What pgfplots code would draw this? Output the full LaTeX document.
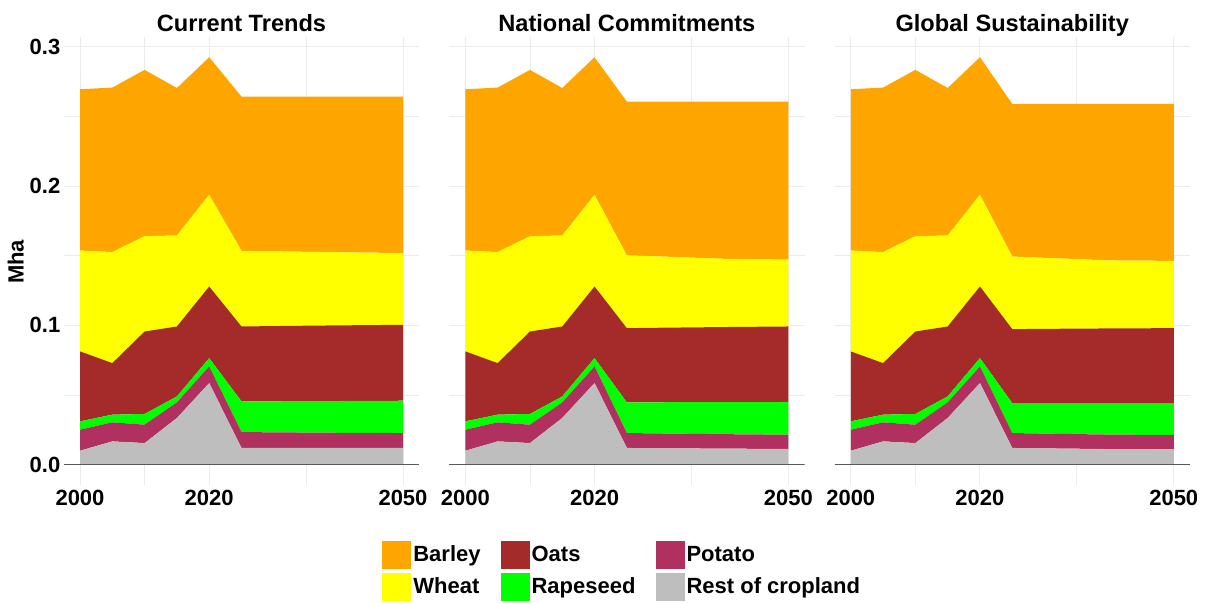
\documentclass[border=0pt]{standalone}
\usepackage{pgfplots}
\pgfplotsset{compat=1.18}
\usepackage{pgfplotstable}
\usepackage{fontspec}
\setmainfont{Liberation Sans}
\definecolor{cbarley}{HTML}{FFA500}
\definecolor{cwheat}{HTML}{FFFF00}
\definecolor{coats}{HTML}{A52A2A}
\definecolor{crape}{HTML}{00FF00}
\definecolor{cpotato}{HTML}{B03060}
\definecolor{crest}{HTML}{BEBEBE}
\definecolor{cgrid}{HTML}{EBEBEB}

\pgfplotstableread{
x rest potato rape oats wheat barley
2000 0.0100 0.0151 0.0060 0.0502 0.0724 0.1158
2005 0.0167 0.0137 0.0055 0.0370 0.0797 0.1181
2010 0.0155 0.0132 0.0077 0.0592 0.0684 0.1194
2015 0.0335 0.0112 0.0043 0.0502 0.0653 0.1059
2020 0.0586 0.0119 0.0060 0.0514 0.0658 0.0988
2025 0.0120 0.0114 0.0220 0.0538 0.0543 0.1107
2030 0.0120 0.0112 0.0223 0.0540 0.0536 0.1111
2040 0.0120 0.0109 0.0228 0.0543 0.0525 0.1117
2050 0.0120 0.0107 0.0232 0.0545 0.0515 0.1123
}\tabCT
\pgfplotstableread{
x rest potato rape oats wheat barley
2000 0.0100 0.0151 0.0060 0.0502 0.0724 0.1158
2005 0.0167 0.0137 0.0055 0.0370 0.0797 0.1181
2010 0.0155 0.0132 0.0077 0.0592 0.0684 0.1194
2015 0.0335 0.0112 0.0043 0.0502 0.0653 0.1059
2020 0.0586 0.0119 0.0060 0.0514 0.0658 0.0988
2025 0.0120 0.0107 0.0220 0.0533 0.0522 0.1104
2030 0.0118 0.0106 0.0224 0.0535 0.0512 0.1111
2040 0.0115 0.0104 0.0230 0.0539 0.0490 0.1128
2050 0.0113 0.0102 0.0235 0.0542 0.0479 0.1135
}\tabNC
\pgfplotstableread{
x rest potato rape oats wheat barley
2000 0.0100 0.0151 0.0060 0.0502 0.0724 0.1158
2005 0.0167 0.0137 0.0055 0.0370 0.0797 0.1181
2010 0.0155 0.0132 0.0077 0.0592 0.0684 0.1194
2015 0.0335 0.0112 0.0043 0.0502 0.0653 0.1059
2020 0.0586 0.0119 0.0060 0.0514 0.0658 0.0988
2025 0.0120 0.0107 0.0215 0.0531 0.0521 0.1096
2030 0.0117 0.0106 0.0219 0.0533 0.0510 0.1105
2040 0.0112 0.0104 0.0226 0.0536 0.0488 0.1124
2050 0.0110 0.0103 0.0229 0.0538 0.0483 0.1127
}\tabGS

\pgfplotsset{
  panel/.style={
    scale only axis, width=177.65pt, height=224pt,
    anchor=south west,
    xmin=1997.5, xmax=2052.5, ymin=-0.0146, ymax=0.307,
    stack plots=y,
    axis line style={draw=none},
    major tick length=0pt, minor tick length=0pt,
    xtick={2000,2020,2050}, minor xtick={2010,2035},
    ytick={0,0.1,0.2,0.3}, minor ytick={0.05,0.15,0.25},
    grid=both,
    major grid style={cgrid, line width=0.5pt},
    minor grid style={cgrid, line width=0.4pt},
    /pgf/number format/assume math mode=true,
    /pgf/number format/1000 sep={},
    yticklabel style={/pgf/number format/fixed, /pgf/number format/precision=1, /pgf/number format/fixed zerofill, font=\fontsize{11}{13}\selectfont\bfseries, inner xsep=1.6pt},
    xticklabel style={font=\fontsize{11}{13}\selectfont\bfseries, inner ysep=2.2pt},
    every axis title/.style={font=\fontsize{11.8}{14}\selectfont\bfseries, at={(axis description cs:0.5,1)}, anchor=base, yshift=2.6pt},
    every axis plot/.append style={draw=none},
  }
}

\newcommand{\stackareas}[1]{%
  \addplot[fill=crest] table[x=x,y=rest]{#1} \closedcycle;
  \addplot[fill=cpotato] table[x=x,y=potato]{#1} \closedcycle;
  \addplot[fill=crape] table[x=x,y=rape]{#1} \closedcycle;
  \addplot[fill=coats] table[x=x,y=oats]{#1} \closedcycle;
  \addplot[fill=cwheat] table[x=x,y=wheat]{#1} \closedcycle;
  \addplot[fill=cbarley] table[x=x,y=barley]{#1} \closedcycle;
}

\begin{document}
\begin{tikzpicture}
\useasboundingbox (0,0) rectangle (605pt,301pt);

\begin{axis}[panel, at={(31.925pt,58.5pt)}, title={Current Trends},
  ylabel={Mha},
  every axis y label/.style={at={(axis description cs:-0.1355,0.498)}, rotate=90, anchor=center, font=\fontsize{11}{13}\selectfont\bfseries}]
\stackareas{\tabCT}
\end{axis}
\begin{axis}[panel, at={(31.925pt,58.5pt)}, stack plots=false, axis lines=none, xtick=\empty, ytick=\empty, minor xtick={}, minor ytick={}, grid=none]
\addplot[draw=black!65, line width=0.6pt] coordinates {(1997.5,0) (2052.5,0)};
\end{axis}

\begin{axis}[panel, at={(224.6pt,58.5pt)}, title={National Commitments}, yticklabels={},
  legend columns=3,
  legend style={at={(axis description cs:-0.1882,-0.125)}, anchor=north west, draw=none, fill=none, inner sep=0pt, outer sep=0pt,
    font=\fontsize{11}{13}\selectfont\bfseries,
    nodes={inner xsep=1pt, inner ysep=0pt},
    row sep=1.8pt,
    /tikz/every even column/.append style={column sep=9pt}},
  legend cell align=left,
  legend image code/.code={\fill[#1] (0pt,-7pt) rectangle (14.5pt,7pt);}]
\addlegendimage{fill=cbarley, draw=none}
\addlegendimage{fill=coats, draw=none}
\addlegendimage{fill=cpotato, draw=none}
\addlegendimage{fill=cwheat, draw=none}
\addlegendimage{fill=crape, draw=none}
\addlegendimage{fill=crest, draw=none}
\legend{Barley, Oats, Potato, Wheat, Rapeseed, Rest of cropland}
\stackareas{\tabNC}
\end{axis}
\begin{axis}[panel, at={(224.6pt,58.5pt)}, stack plots=false, axis lines=none, xtick=\empty, ytick=\empty, minor xtick={}, minor ytick={}, grid=none]
\addplot[draw=black!65, line width=0.6pt] coordinates {(1997.5,0) (2052.5,0)};
\end{axis}

\begin{axis}[panel, at={(417.3pt,58.5pt)}, title={Global Sustainability}, yticklabels={}]
\stackareas{\tabGS}
\end{axis}
\begin{axis}[panel, at={(417.3pt,58.5pt)}, stack plots=false, axis lines=none, xtick=\empty, ytick=\empty, minor xtick={}, minor ytick={}, grid=none]
\addplot[draw=black!65, line width=0.6pt] coordinates {(1997.5,0) (2052.5,0)};
\end{axis}
\end{tikzpicture}
\end{document}
